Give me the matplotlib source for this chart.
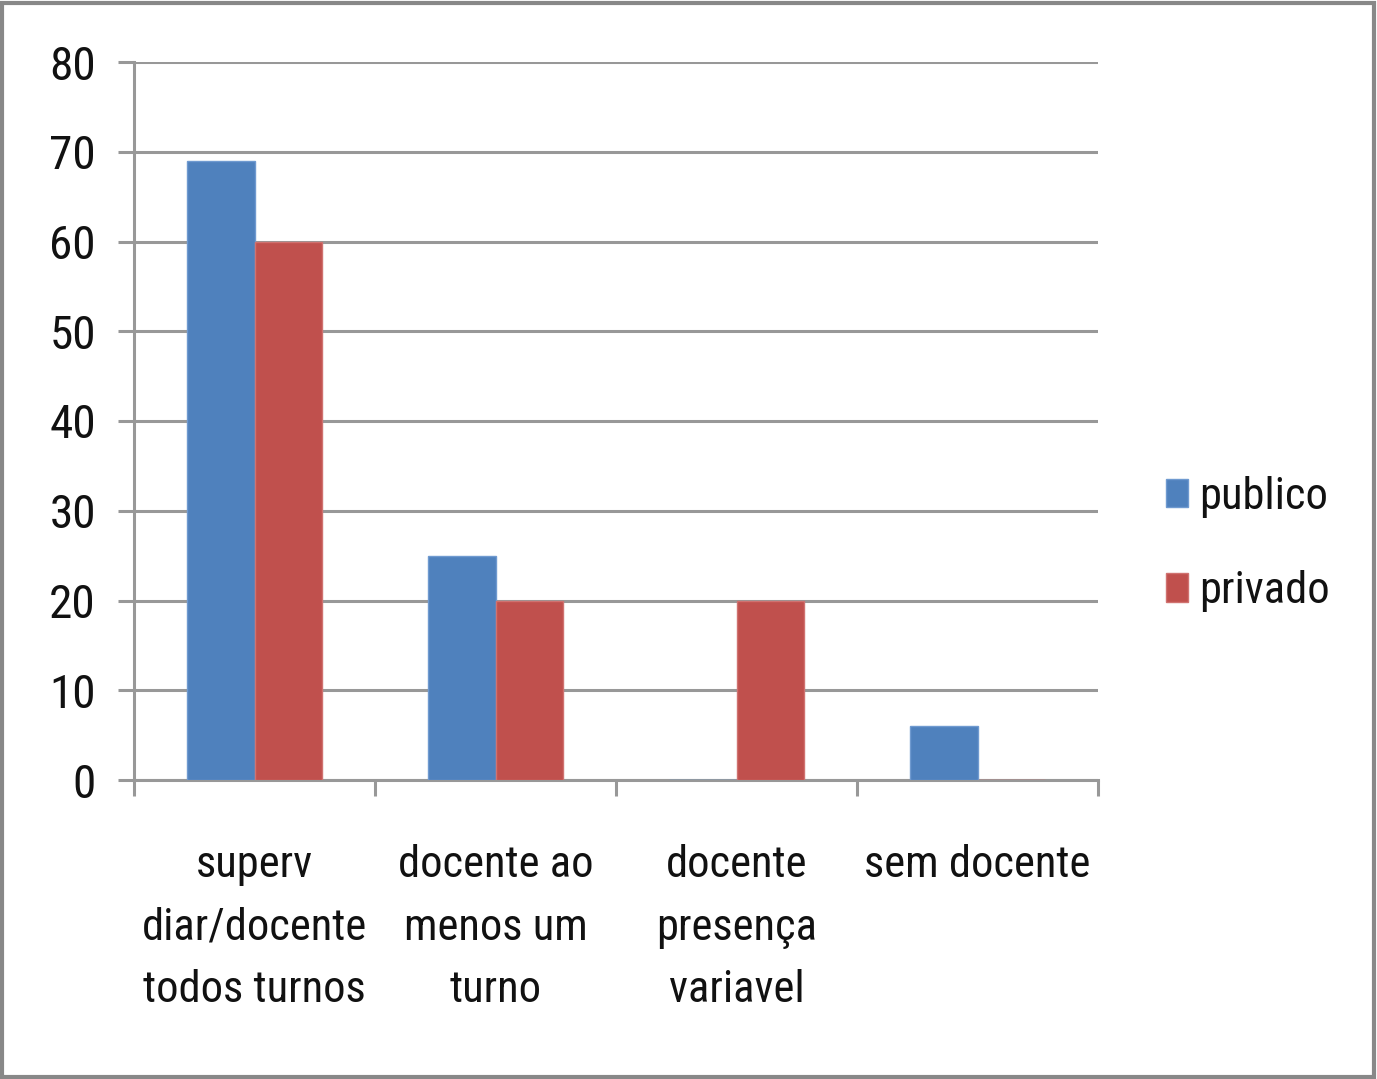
import matplotlib
matplotlib.use("Agg")
import matplotlib.pyplot as plt
from matplotlib import font_manager
from matplotlib.patches import Rectangle
import numpy as np

categories = ["superv\ndiar/docente\ntodos turnos", "docente ao\nmenos um\nturno",
              "docente\npresença\nvariavel", "sem docente"]
series_names = ["publico", "privado"]
publico = [69, 25, 0, 6]
privado = [60, 20, 20, 0]
yticks = [0, 10, 20, 30, 40, 50, 60, 70, 80]

font = "DejaVu Sans"
for cand in ["Liberation Sans Narrow", "Roboto Condensed", "Open Sans Condensed", "Liberation Sans"]:
    try:
        font_manager.findfont(cand, fallback_to_default=False)
        font = cand
        break
    except Exception:
        continue
plt.rcParams['font.family'] = [font, 'DejaVu Sans']

W, H = 1377, 1079
fig = plt.figure(figsize=(W / 100, H / 100), dpi=100)
ax = fig.add_axes([134 / W, 1 - 780 / H, (1098 - 134) / W, (780 - 62) / H])

blue = "#4F81BD"
red = "#C0504D"
x = np.arange(len(categories))
bw = 0.28
ax.bar(x - bw / 2, publico, bw, color=blue, edgecolor="#6F9AD0", linewidth=1.0, label=series_names[0], zorder=3)
ax.bar(x + bw / 2, privado, bw, color=red, edgecolor="#D07270", linewidth=1.0, label=series_names[1], zorder=3)

ax.set_xlim(-0.5, len(categories) - 0.5)
ax.set_ylim(0, 80)
ax.set_yticks(yticks)
ax.set_yticklabels([str(v) for v in yticks])
ax.yaxis.grid(True, color="#989898", linewidth=2.2, zorder=0)
ax.set_axisbelow(True)

for s in ["top", "right"]:
    ax.spines[s].set_visible(False)
ax.spines["left"].set_color("#989898")
ax.spines["left"].set_linewidth(2.2)
ax.spines["bottom"].set_color("#989898")
ax.spines["bottom"].set_linewidth(2.2)

ax.tick_params(axis="y", length=11.5, width=2.2, color="#989898", pad=16, labelsize=34, labelcolor="#111111")
ax.set_xticks(x)
ax.set_xticklabels(categories, linespacing=1.63)
ax.tick_params(axis="x", which="major", length=0, pad=46, labelsize=32, labelcolor="#111111")
ax.set_xticks(np.arange(-0.5, len(categories), 1.0), minor=True)
ax.tick_params(axis="x", which="minor", length=11.5, width=2.2, color="#989898")

leg = fig.legend(loc="center left", bbox_to_anchor=(1166 / W, 1 - 544 / H), frameon=False,
                 fontsize=32, handlelength=0.5, handleheight=0.6, handletextpad=0.25,
                 labelspacing=1.18, borderpad=0, borderaxespad=0)
for t in leg.get_texts():
    t.set_color("#111111")

fig.patches.append(Rectangle((0.0015, 0.002), 0.996, 0.995, transform=fig.transFigure,
                             fill=False, edgecolor="#888888", linewidth=3))

fig.savefig("out.png", dpi=100)
